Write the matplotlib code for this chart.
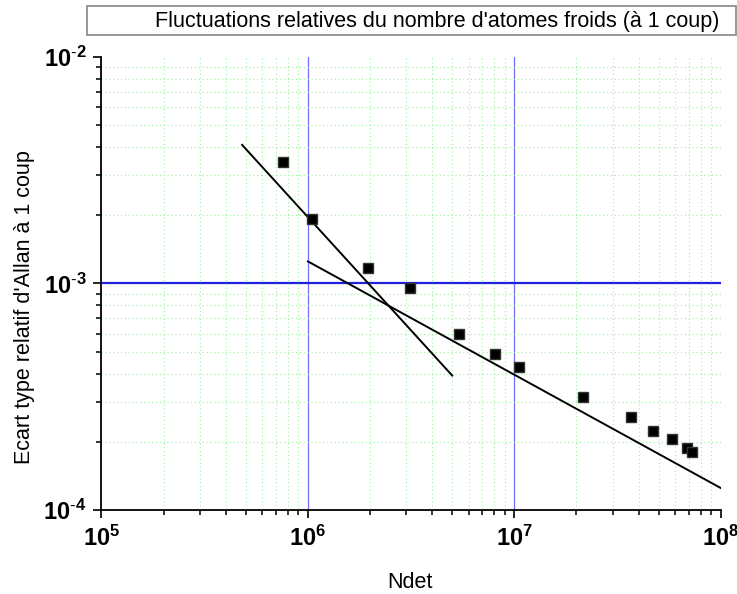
import numpy as np
import matplotlib
matplotlib.use("Agg")
import matplotlib.pyplot as plt
from matplotlib.ticker import LogLocator, FixedLocator, FixedFormatter, NullFormatter
from matplotlib.patches import Rectangle

plt.rcParams['font.family'] = ['Liberation Sans', 'DejaVu Sans']
plt.rcParams['mathtext.fontset'] = 'custom'
plt.rcParams['mathtext.rm'] = 'Liberation Sans'
plt.rcParams['mathtext.bf'] = 'Liberation Sans:bold'

# points mesures
ndet = [7.55e5, 1.05e6, 1.96e6, 3.12e6, 5.40e6, 8.09e6, 1.054e7,
        2.16e7, 3.69e7, 4.68e7, 5.83e7, 6.84e7, 7.29e7]
ecart = [3.44e-3, 1.93e-3, 1.165e-3, 0.953e-3, 5.98e-4, 4.88e-4, 4.27e-4,
         3.15e-4, 2.58e-4, 2.24e-4, 2.06e-4, 1.87e-4, 1.81e-4]

# droites de pente -1 et -1/2
fit1_x = [4.8e5, 5.0e6]
fit1_a = 1.96e-3   # valeur a 1e6, pente -1
fit2_x = [1.0e6, 1.0e8]
fit2_a = 1.25e-3   # valeur a 1e6, pente -1/2

fig = plt.figure(figsize=(7.37, 5.94), dpi=100)
ax = fig.add_axes([0.1377, 0.1414, 0.978 - 0.1377, 0.9045 - 0.1414])

ax.set_xscale('log')
ax.set_yscale('log')
ax.set_xlim(1e5, 1e8)
ax.set_ylim(1e-4, 1e-2)

# grille mineure en pointilles verts
ax.xaxis.set_minor_locator(LogLocator(base=10, subs=np.arange(2, 10)))
ax.yaxis.set_minor_locator(LogLocator(base=10, subs=np.arange(2, 10)))
ax.grid(which='minor', color='#9cf09c', linestyle=(0, (1, 2.5)), linewidth=0.8)
ax.grid(which='major', visible=False)

# lignes bleues
for xv in [1e6, 1e7]:
    ax.axvline(xv, color='#7070ff', linewidth=0.9, zorder=1)
ax.axhline(1e-3, color='#2020e0', linewidth=1.6, zorder=1)

x1 = np.array(fit1_x)
ax.plot(x1, fit1_a * (x1 / 1e6) ** -1.0, color='black', linewidth=1.4, zorder=3)
x2 = np.array(fit2_x)
ax.plot(x2, fit2_a * (x2 / 1e6) ** -0.5, color='black', linewidth=1.4, zorder=3)

ax.plot(ndet, ecart, linestyle='none', marker='s', markersize=7,
        color='black', markeredgecolor='#333333', zorder=4)

ax.spines['top'].set_visible(False)
ax.spines['right'].set_visible(False)
ax.spines['left'].set_linewidth(1.3)
ax.spines['bottom'].set_linewidth(1.3)

xticks = [1e5, 1e6, 1e7, 1e8]
yticks = [1e-4, 1e-3, 1e-2]
ax.xaxis.set_major_locator(FixedLocator(xticks))
ax.yaxis.set_major_locator(FixedLocator(yticks))
ax.xaxis.set_major_formatter(FixedFormatter([r'$\mathbf{10^{5}}$', r'$\mathbf{10^{6}}$',
                                             r'$\mathbf{10^{7}}$', r'$\mathbf{10^{8}}$']))
ax.yaxis.set_major_formatter(FixedFormatter([r'$\mathbf{10^{\text{-}4}}$', r'$\mathbf{10^{\text{-}3}}$',
                                             r'$\mathbf{10^{\text{-}2}}$']))
ax.xaxis.set_minor_formatter(NullFormatter())
ax.yaxis.set_minor_formatter(NullFormatter())
ax.tick_params(which='major', direction='out', length=6, width=1.2, labelsize=17, pad=5)
ax.tick_params(which='minor', direction='out', length=3.8, width=1.1)

fig.text(410 / 737, 1 - 582 / 594, 'Ndet', ha='center', va='center', fontsize=15.5)
fig.text(25 / 737, 1 - 307 / 594, "Ecart type relatif d'Allan à 1 coup",
         ha='center', va='center', rotation=90, fontsize=15.5)

# cadre du titre
fig.patches.append(Rectangle((87 / 737, 1 - 35 / 594), (736 - 87) / 737, 29 / 594,
                             transform=fig.transFigure, fill=False,
                             edgecolor='#888888', linewidth=1.2))
fig.text(437 / 737, 1 - 21 / 594, "Fluctuations relatives du nombre d'atomes froids (à 1 coup)",
         ha='center', va='center', fontsize=15.5)

fig.savefig('out.png', dpi=100)
